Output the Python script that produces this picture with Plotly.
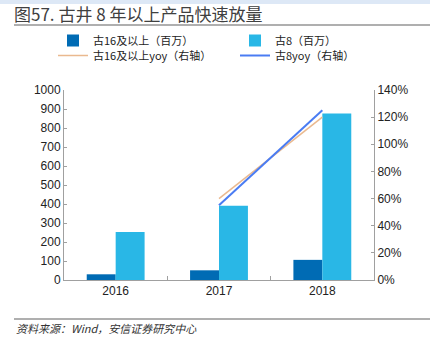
import plotly.graph_objects as go

years = ["2016", "2017", "2018"]
gu16_vol = [30, 51, 106]
gu8_vol = [252, 391, 876]
gu16_yoy_years = ["2017", "2018"]
gu16_yoy = [0.60, 1.20]
gu8_yoy_years = ["2017", "2018"]
gu8_yoy = [0.55, 1.25]

cjk = "Noto Sans CJK SC"
latin = "Liberation Sans, " + cjk

fig = go.Figure()
fig.add_trace(go.Bar(x=years, y=gu16_vol, name="古16及以上（百万）", legend="legend",
                     marker=dict(color="#006bb4", line=dict(width=0))))
fig.add_trace(go.Bar(x=years, y=gu8_vol, name="古8（百万）", legend="legend2",
                     marker=dict(color="#29b7e6", line=dict(width=0))))
fig.add_trace(go.Scatter(x=gu16_yoy_years, y=gu16_yoy, name="古16及以上yoy（右轴）",
                         legend="legend3", mode="lines",
                         line=dict(color="#eab98f", width=1.5), yaxis="y2"))
fig.add_trace(go.Scatter(x=gu8_yoy_years, y=gu8_yoy, name="古8yoy（右轴）",
                         legend="legend4", mode="lines",
                         line=dict(color="#4a7cf3", width=2), yaxis="y2"))

W, H = 439, 351


def leg(px, py):
    return dict(x=px / W, y=1 - py / H, xref="container", yref="container",
                xanchor="left", yanchor="middle", orientation="v",
                font=dict(family=cjk, size=11, color="#222222"),
                itemwidth=30, bgcolor="rgba(0,0,0,0)", borderwidth=0)


fig.update_layout(
    width=W, height=H,
    margin=dict(l=64, r=65, t=90, b=71, autoexpand=False),
    paper_bgcolor="white", plot_bgcolor="white",
    barmode="group", bargap=0.44, bargroupgap=0,
    font=dict(family=latin, size=12, color="#222222"),
    showlegend=True,
    legend=leg(53, 40.5), legend2=leg(235, 40.5), legend3=leg(53, 55.5), legend4=leg(235, 55.5),
    xaxis=dict(type="category", showline=True, linecolor="#a0a0a0", linewidth=1,
               ticks="inside", tickson="boundaries", ticklen=4, tickcolor="#a0a0a0",
               showgrid=False, tickfont=dict(family=latin, size=12)),
    yaxis=dict(range=[0, 1000], dtick=100, showline=True, linecolor="#a0a0a0",
               ticks="inside", ticklen=3, tickcolor="#a0a0a0", showgrid=False,
               zeroline=False, tickfont=dict(family=latin, size=12)),
    yaxis2=dict(range=[0, 1.4], dtick=0.2, tickformat=".0%", overlaying="y", side="right",
                showline=True, linecolor="#a0a0a0", ticks="inside", ticklen=3,
                tickcolor="#a0a0a0", showgrid=False, zeroline=False,
                tickfont=dict(family=latin, size=12)),
    title=dict(text="图57. 古井 8 年以上产品快速放量", xref="container", yref="container",
               x=14/W, xanchor="left", y=1-15/H, yanchor="middle",
               font=dict(family=cjk, size=17, color="#404040")),
)

fig.add_shape(type="rect", xref="paper", yref="paper",
              x0=-64/310, x1=(430-64)/310, y0=1+(90-0)/190, y1=1+(90-4)/190,
              fillcolor="#dde8f6", line=dict(width=0), layer="below")
fig.add_shape(type="line", xref="paper", yref="paper",
              x0=(14-64)/310, x1=(430-64)/310, y0=1+(90-25)/190, y1=1+(90-25)/190,
              line=dict(color="#606060", width=1.2))
fig.add_shape(type="line", xref="paper", yref="paper",
              x0=(14-64)/310, x1=(430-64)/310, y0=-(319-280)/190, y1=-(319-280)/190,
              line=dict(color="#606060", width=1.2))
fig.add_annotation(text="<i>资料来源：Wind，安信证券研究中心</i>", xref="paper", yref="paper",
                   x=(14-64)/310, y=-(328-280)/190, xanchor="left", yanchor="middle",
                   showarrow=False, font=dict(family=cjk, size=11, color="#333333"))

fig.write_html("out.html")
